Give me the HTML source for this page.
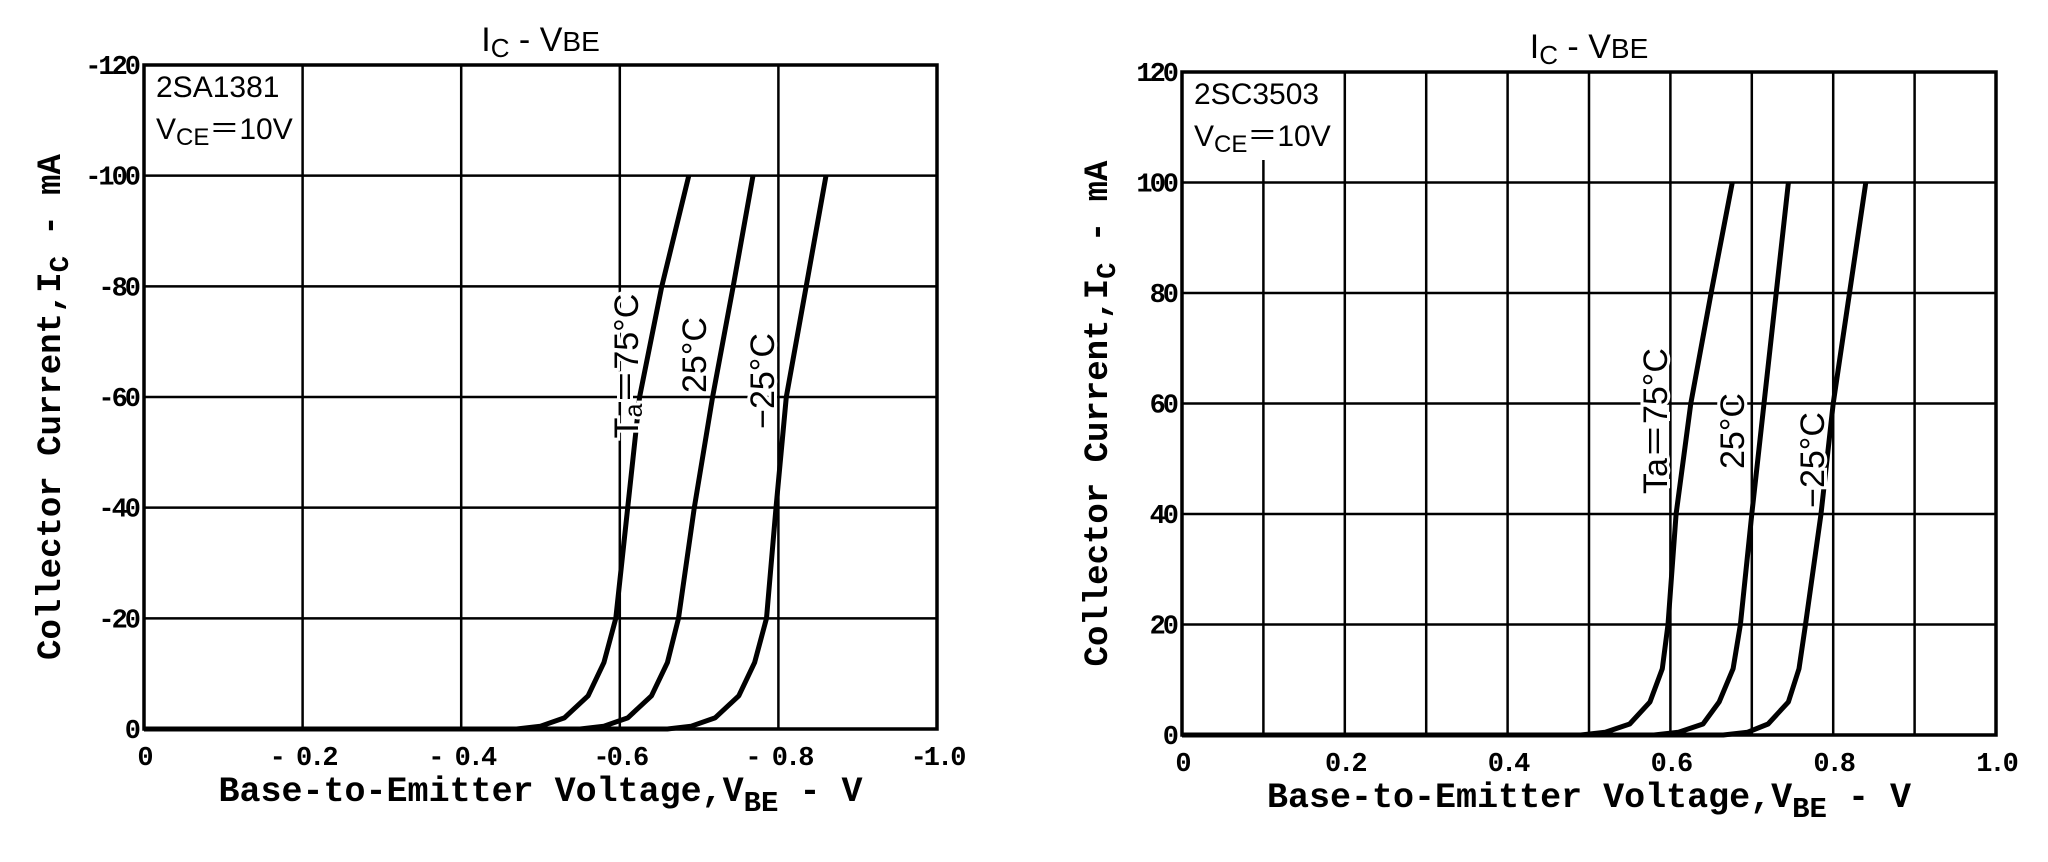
<!DOCTYPE html>
<html><head><meta charset="utf-8"><style>
html,body{margin:0;padding:0;background:#fff;}
svg{display:block;}
text{fill:#000;}
.t{font-family:"Liberation Mono",monospace;}
.b{font-family:"Liberation Mono",monospace;font-weight:bold;}
</style></head><body>
<svg id="c" width="2048" height="862" xmlns="http://www.w3.org/2000/svg"></svg>
<script>
// ---- data ----
const yTicksLeft = ["0","-20","-40","-60","-80","-100","-120"];
const xTicksLeft = ["0","- 0.2","- 0.4","-0.6","- 0.8","-1.0"];
const yTicksRight = ["0","20","40","60","80","100","120"];
const xTicksRight = ["0","0.2","0.4","0.6","0.8","1.0"];
// left (2SA1381) |VBE| V and |IC| mA
const leftT75V = [0.47,0.50,0.53,0.56,0.58,0.595,0.61,0.625,0.653,0.687];
const leftT75I = [0,0.5,2,6,12,20,40,60,80,100];
const leftT25V = [0.55,0.58,0.61,0.64,0.66,0.674,0.694,0.717,0.743,0.768];
const leftT25I = [0,0.5,2,6,12,20,40,60,80,100];
const leftTm25V = [0.66,0.69,0.72,0.75,0.77,0.785,0.797,0.81,0.835,0.86];
const leftTm25I = [0,0.5,2,6,12,20,40,60,80,100];
// right (2SC3503)
const rightT75V = [0.49,0.52,0.55,0.575,0.59,0.597,0.607,0.625,0.65,0.676];
const rightT75I = [0,0.5,2,6,12,20,40,60,80,100];
const rightT25V = [0.58,0.61,0.64,0.66,0.677,0.686,0.70,0.715,0.73,0.745];
const rightT25I = [0,0.5,2,6,12,20,40,60,80,100];
const rightTm25V = [0.665,0.695,0.72,0.745,0.758,0.766,0.785,0.80,0.82,0.84];
const rightTm25I = [0,0.5,2,6,12,20,40,60,80,100];

const NS="http://www.w3.org/2000/svg";
const svg=document.getElementById('c');
function mk(tag,attrs,parent){const e=document.createElementNS(NS,tag);for(const k in attrs)e.setAttribute(k,attrs[k]);(parent||svg).appendChild(e);return e;}

function chart(o){
  const g=mk('g',{});
  
  
  const L=o.L,R=o.R,T=o.T,B=o.B;
  const xs=v=>L+(v/1.0)*(R-L);
  const ys=i=>B-(i/120)*(B-T);
  for(let k=1;k<o.xDiv;k++){
    const x=L+k*(R-L)/o.xDiv;
    const gl=mk('line',{x1:x,x2:x,y1:(k*(R-L)/o.xDiv<o.boxW?o.boxH:T),y2:B,stroke:'#000','stroke-width':2.5},g);
    
    
  }
  for(let k=1;k<6;k++){
    const y=ys(k*20);
    const gl=mk('line',{x1:L,x2:R,y1:y,y2:y,stroke:'#000','stroke-width':2.5},g);
    
    
  }
  const fr=mk('rect',{x:L,y:T,width:R-L,height:B-T,fill:'none',stroke:'#000','stroke-width':3.5},g);
  
  
  o.yTicks.forEach((t,k)=>{
    const e=mk('text',{x:L-6,y:ys(k*20)+9,'text-anchor':'end','font-size':27,class:'b','letter-spacing':-3},g);
    e.textContent=t;
    
    
  });
  o.xTicks.forEach((t,k)=>{
    const e=mk('text',{x:xs(k*0.2),y:B+36,'text-anchor':'middle','font-size':27,class:'b','letter-spacing':-3},g);
    e.textContent=t;
    
    
  });
  o.series.forEach(s=>{
    const pts=s.v.map((v,i)=>xs(v).toFixed(1)+','+ys(s.i[i]).toFixed(1));
    pts.unshift(xs(0)+','+ys(0));
    const p=mk('polyline',{points:pts.join(' '),fill:'none',stroke:'#000','stroke-width':5,'stroke-linejoin':'round'},g);
    
    
  });
  o.labels.forEach(l=>{
    const e=mk('text',{x:0,y:0,transform:`translate(${l.x},${l.y}) rotate(-90)`,'text-anchor':'middle','font-size':34,'font-family':'Liberation Sans, sans-serif','stroke':'#fff','stroke-width':6,'paint-order':'stroke'},g);
    e.innerHTML=l.html;
    
    
  });
  const b1=mk('text',{x:L+12,y:T+32,'font-size':30,'font-family':'Liberation Sans, sans-serif'},g);
  b1.textContent=o.part;
  
  
  const b2=mk('text',{x:L+12,y:T+74,'font-size':30,'font-family':'Liberation Sans, sans-serif'},g);
  b2.innerHTML='V<tspan font-size="24" dy="6">CE</tspan><tspan dy="-6">＝10V</tspan>';
  
  
  const tt=mk('text',{x:(L+R)/2,y:T-14,'text-anchor':'middle','font-size':34,'font-family':'Liberation Sans, sans-serif'},g);
  tt.innerHTML='I<tspan font-size="26" dy="6">C</tspan><tspan dy="-6"> - V</tspan><tspan font-size="28">BE</tspan>';
  
  
  const yt=mk('text',{x:0,y:0,transform:`translate(${o.yTitleX},${(T+B)/2+10}) rotate(-90)`,'text-anchor':'middle','font-size':34,class:'b'},g);
  yt.innerHTML='Collector Current,I<tspan font-size="27" dy="8">C</tspan><tspan dy="-8"> - mA</tspan>';
  
  
  const xt=mk('text',{x:(L+R)/2,y:B+72,'text-anchor':'middle','font-size':35,class:'b'},g);
  xt.innerHTML='Base-to-Emitter Voltage,V<tspan font-size="29" dy="10">BE</tspan><tspan dy="-10"> - V</tspan>';
  
  
}

chart({name:'chart-2sa1381',L:144,R:937,T:65,B:729,xDiv:5,boxW:120,boxH:150,
  yTicks:yTicksLeft,xTicks:xTicksLeft,part:'2SA1381',yTitleX:60,
  series:[{name:'curve-75c',v:leftT75V,i:leftT75I},{name:'curve-25c',v:leftT25V,i:leftT25I},{name:'curve-minus25c',v:leftTm25V,i:leftTm25I}],
  labels:[{name:'label-75c',x:638,y:366,html:'T<tspan font-size="25" dy="4">a</tspan><tspan dy="-4">＝75°C</tspan>'},
          {name:'label-25c',x:706,y:355,html:'25°C'},
          {name:'label-minus25c',x:774,y:381,html:'−25°C'}]});
chart({name:'chart-2sc3503',L:1182,R:1996,T:72,B:735,xDiv:10,boxW:82,boxH:160,
  yTicks:yTicksRight,xTicks:xTicksRight,part:'2SC3503',yTitleX:1107,
  series:[{name:'curve-75c',v:rightT75V,i:rightT75I},{name:'curve-25c',v:rightT25V,i:rightT25I},{name:'curve-minus25c',v:rightTm25V,i:rightTm25I}],
  labels:[{name:'label-75c',x:1667,y:421,html:'Ta＝75°C'},
          {name:'label-25c',x:1744,y:431,html:'25°C'},
          {name:'label-minus25c',x:1824,y:460,html:'−25°C'}]});
</script>
</body></html>
